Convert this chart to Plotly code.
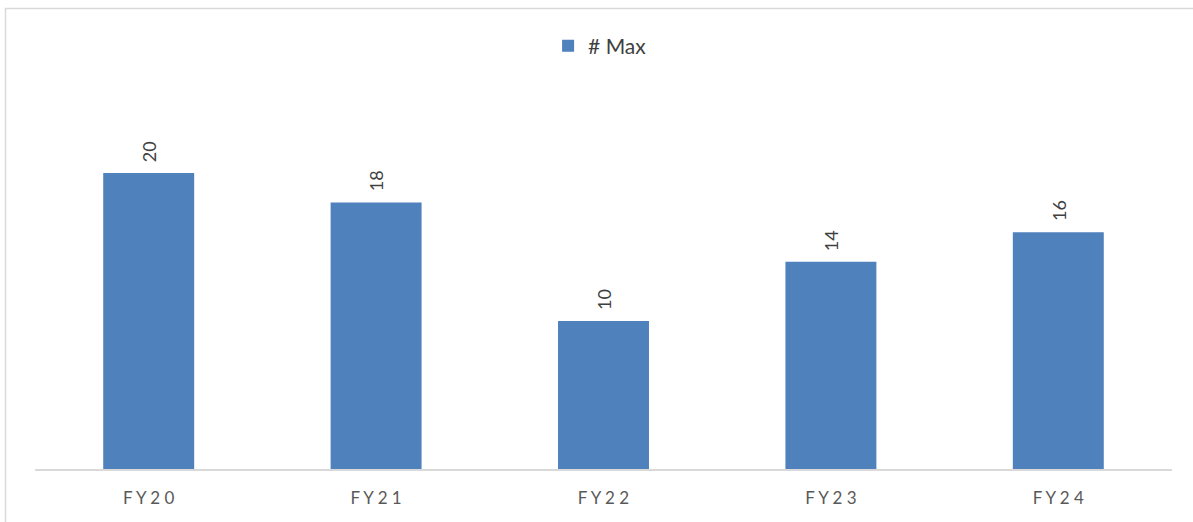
import plotly.graph_objects as go

# Data
categories = ["FY20", "FY21", "FY22", "FY23", "FY24"]
tick_labels = ["F Y 2 0", "F Y 2 1", "F Y 2 2", "F Y 2 3", "F Y 2 4"]
max_values = [20, 18, 10, 14, 16]
series_name = "# Max"

W, H = 1193, 522
left, right, top, bottom = 35, 21, 80, 53
plot_w = W - left - right
plot_h = H - top - bottom
y_max = plot_h / 14.8

bar_color = "#4F81BD"
font_family = "Lato, 'Liberation Sans', sans-serif"

fig = go.Figure()
fig.add_trace(go.Bar(
    x=categories,
    y=max_values,
    name=series_name,
    marker=dict(color=bar_color, line=dict(width=0)),
    width=0.4,
    showlegend=True,
))

# Rotated value labels above each bar
for cat, val in zip(categories, max_values):
    fig.add_annotation(
        x=cat, y=val, xref="x", yref="y",
        text=str(val), textangle=-90, showarrow=False,
        xanchor="center", yanchor="bottom", yshift=9,
        font=dict(family=font_family, size=18, color="#404040"),
    )

# Outer chart border
fig.add_shape(
    type="rect", xref="paper", yref="paper",
    x0=(5.5 - left) / plot_w, x1=1.2,
    y0=-0.5, y1=(H - bottom - 8.5) / plot_h,
    line=dict(color="#D9D9D9", width=1.5),
    fillcolor="rgba(0,0,0,0)", layer="below",
)

fig.update_layout(
    width=W, height=H,
    margin=dict(l=left, r=right, t=top, b=bottom, pad=0),
    plot_bgcolor="white", paper_bgcolor="white",
    font=dict(family=font_family, color="#404040"),
    bargap=0.6,
    legend=dict(
        orientation="h", x=0.497, xanchor="center",
        y=(H - bottom - 46) / plot_h, yanchor="middle",
        font=dict(family=font_family, size=21, color="#404040"),
        itemwidth=30, bgcolor="rgba(0,0,0,0)",
    ),
    xaxis=dict(
        type="category",
        tickmode="array", tickvals=categories, ticktext=tick_labels,
        showline=True, linecolor="#D9D9D9", linewidth=2,
        ticks="", showgrid=False, zeroline=False,
        tickfont=dict(family=font_family, size=17, color="#595959"),
        ticklabelstandoff=13,
    ),
    yaxis=dict(
        range=[0, y_max], visible=False, showgrid=False, zeroline=False,
    ),
)

fig.write_html("out.html")
